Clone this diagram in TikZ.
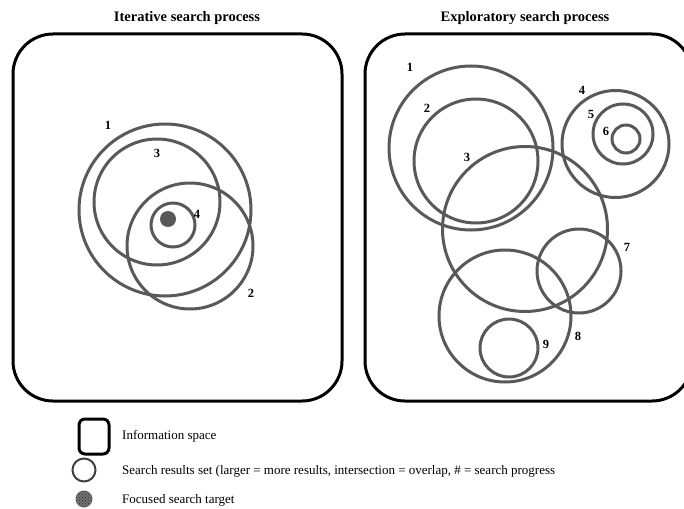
\documentclass[tikz,border=0pt]{standalone}
\usepackage{fontspec}
\setmainfont{Liberation Serif}
\usetikzlibrary{patterns}
\begin{document}
\begin{tikzpicture}[x=1pt,y=-1pt,
  spacebox/.style={draw=black,line width=3pt,rounded corners=40pt,rectangle,inner sep=0pt},
  rset/.style={draw=black!65,line width=3pt,circle,inner sep=0pt,minimum size=#1},
  num/.style={font=\fontsize{12.5}{14}\selectfont\bfseries,inner sep=0pt},
  ttl/.style={font=\fontsize{14.5}{16}\selectfont\bfseries,inner sep=0pt,anchor=base},
  lgd/.style={font=\fontsize{13}{15}\selectfont,inner sep=0pt,anchor=west}]
\clip (0,0) rectangle (684,508);
\fill[white] (0,0) rectangle (684,508);

% titles
\node[ttl] (t1) at (187,22) {Iterative search process};
\node[ttl] (t2) at (525,22) {Exploratory search process};

% information spaces
\node[spacebox,minimum width=329pt,minimum height=367pt] (left) at (177.5,217.5) {};
\node[spacebox,minimum width=327pt,minimum height=367pt] (right) at (528.5,217.5) {};

% iterative search: result sets
\node[rset=172pt] (a1) at (165,210) {};
\node[rset=126pt] (a3) at (157,202) {};
\node[rset=126pt] (a2) at (190,246) {};
\node[rset=44pt]  (a4) at (173,225) {};
\node[circle,fill=black!65,minimum size=16pt,inner sep=0pt] (target) at (168,219) {};
\node[num] (n1) at (108,125) {1};
\node[num] (n3) at (157,153) {3};
\node[num] (n4) at (197,214) {4};
\node[num] (n2) at (251,293) {2};

% exploratory search: result sets
\node[rset=164pt] (b1) at (471,148) {};
\node[rset=124pt] (b2) at (476,161) {};
\node[rset=165pt] (b3) at (525,229) {};
\node[rset=107pt] (b4) at (615.5,144) {};
\node[rset=60pt]  (b5) at (623,134) {};
\node[rset=28pt]  (b6) at (626,139) {};
\node[rset=84pt]  (b7) at (579,271) {};
\node[rset=132pt] (b8) at (505,316) {};
\node[rset=58pt]  (b9) at (509,348) {};
\node[num] (m1) at (410,67) {1};
\node[num] (m2) at (427,108) {2};
\node[num] (m3) at (467,157) {3};
\node[num] (m4) at (582,90) {4};
\node[num] (m5) at (591,114) {5};
\node[num] (m6) at (606,131) {6};
\node[num] (m7) at (627,247) {7};
\node[num] (m8) at (578,336) {8};
\node[num] (m9) at (546,344) {9};

% legend
\node[draw=black,line width=3pt,rounded corners=6pt,minimum width=30pt,minimum height=35pt,inner sep=0pt] (ksp) at (94,436.5) {};
\node[draw=black!75,line width=2pt,circle,minimum size=23pt,inner sep=0pt] (kset) at (84,470) {};
\node[circle,fill=black!55,minimum size=17pt,inner sep=0pt] (ktgt) at (84,499) {};
\node[circle,pattern=crosshatch dots,pattern color=black!85,minimum size=17pt,inner sep=0pt] (ktgt2) at (84,499) {};
\node[lgd] (l1) at (122,436) {Information space};
\node[lgd] (l2) at (122,471) {Search results set (larger = more results, intersection = overlap, \# = search progress};
\node[lgd] (l3) at (122,500) {Focused search target};
\end{tikzpicture}
\end{document}
